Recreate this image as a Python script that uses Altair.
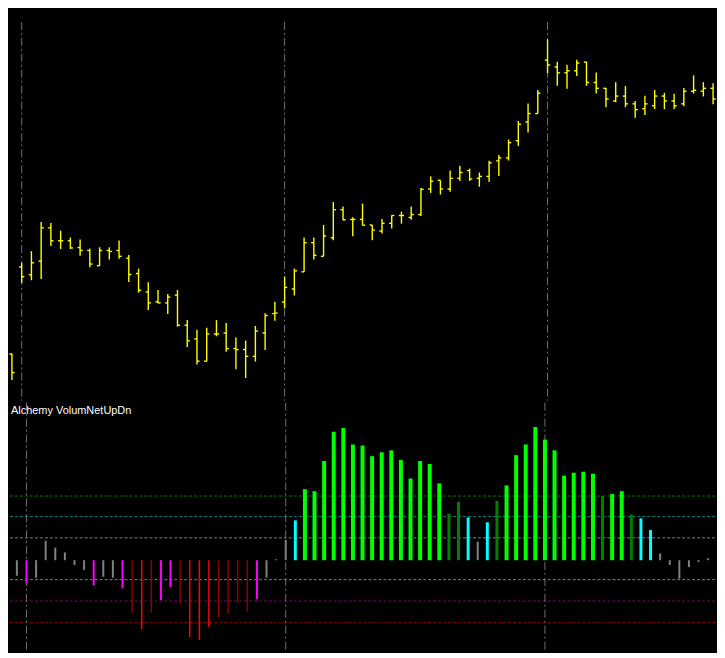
import altair as alt
import pandas as pd

# ---------------- data ----------------
# price panel (arbitrary price units)
opens = [45, 134.7, 126.7, 140.7, 175, 161.7, 161.7, 154.7, 151.7, 136, 151.7, 151.7, 143.7, 128, 109,
         98.7, 97.7, 105.7, 74.7, 60.7, 37.7, 65.7, 66.7, 50.7, 49.7, 42.7, 66.7, 86.7, 98.7, 112,
         129.7, 159.7, 145.7, 164.7, 193.7, 183.7, 183.7, 178, 171.7, 179.7, 187.7, 185.7, 188.7, 215, 224,
         215, 226, 234, 226, 228, 244, 247, 264.7, 284, 292.7, 347.7, 340.7, 334.7, 336.7, 345.7,
         324.7, 318.7, 305.7, 310.7, 302.7, 297.7, 300.7, 310.7, 305.7, 302.7, 315.7, 315.7, 318.7]
highs = [45.7, 139, 151, 181, 180, 172, 165, 163, 153.7, 155, 155, 162, 147, 133, 119,
         111, 107, 111, 80, 70, 72, 80, 77, 62, 59, 74, 87, 99, 125, 133,
         165, 165, 178, 201.7, 197, 186, 200, 178, 184, 188, 191.7, 197, 216, 228, 224,
         234, 239, 236, 232, 244, 250, 266, 285, 303, 317, 369, 346, 343, 348, 346,
         335, 319, 325, 321, 305.7, 311, 317, 314, 313, 319, 332, 325, 324]
lows = [18.3, 118.3, 121, 122.3, 156.3, 153.3, 153.3, 146.3, 134.3, 135.7, 142.3, 143.3, 119.3, 108.3, 90.3,
        97.3, 86.3, 73.3, 52.3, 34.3, 37.3, 63.3, 47.3, 29.3, 20.3, 37.3, 49.3, 79.3, 92.3, 105.3,
        129.7, 142.3, 145.7, 162.3, 182.7, 166.3, 177.7, 162.3, 169.3, 174.3, 179.3, 183.3, 187.3, 211, 209.3,
        212.3, 223.3, 223.3, 217.3, 222.3, 228.3, 244.3, 259.3, 273.3, 292.7, 334.3, 321.3, 318.3, 331.3, 321.3,
        313.3, 299.3, 304.3, 299.3, 288.3, 291.3, 297.3, 297.3, 297.3, 300.3, 313.3, 310.3, 302.3]
closes = [26, 124.7, 139, 175, 161.7, 161.7, 154.3, 151.7, 137.7, 151.7, 150.7, 145.7, 127, 110.7, 97.7,
          97.7, 103.7, 74.7, 58.7, 37.7, 65.7, 65.7, 50.7, 49.7, 42.7, 68.7, 84.7, 87.3, 113.7, 130.7,
          159.7, 146.7, 166.7, 193.7, 183.3, 183.7, 177.7, 172.7, 179.7, 187.7, 187.7, 188.7, 214.7, 223, 215,
          226, 232, 225.3, 228, 242, 247, 262.7, 281.7, 292.7, 313.7, 342.7, 334.7, 336.7, 344.7, 324.7,
          318.7, 307.7, 310.7, 302.7, 296.7, 302.7, 310.7, 305.7, 300.7, 315.7, 316.7, 318.7, 307.7]

# indicator panel
net_volume = [-16, -24, -18, 20, 13, 8, -5, -10, -26, -17, -18, -29, -54, -71, -54,
              -41, -28, -45, -79, -82, -69, -59, -55, -44, -53, -40, -18, 1, 21, 41,
              73, 71, 102, 132, 136, 119, 118, 107, 111, 113, 103, 84, 102, 99, 79,
              48, 60, 44, 19, 39, 61, 77, 108, 119, 137, 124, 113, 87, 90, 91,
              89, 66, 68, 71, 47, 43, 31, 7, -5, -19, -7, -2, 2]
vol_class = ["gray", "mag", "gray", "gray", "gray", "gray", "gray", "gray", "mag", "gray", "gray", "mag",
             "dred", "red", "dred", "mag", "mag", "dred", "red", "red", "red", "dred", "dred", "dred",
             "dred", "mag", "gray", "gray", "gray", "cyan",
             "lime", "lime", "lime", "lime", "lime", "lime", "lime", "lime", "lime", "lime", "lime",
             "lime", "lime", "lime", "lime",
             "dgreen", "dgreen", "cyan", "gray", "cyan", "dgreen",
             "lime", "lime", "lime", "lime", "lime", "lime", "lime", "lime", "lime", "lime",
             "dgreen", "lime", "lime", "dgreen", "cyan", "cyan",
             "gray", "gray", "gray", "gray", "gray", "gray"]
class_color = {"gray": "#808080", "mag": "#FF00FF", "red": "#FF0000", "dred": "#8B0000",
               "lime": "#00FF00", "dgreen": "#008000", "cyan": "#00FFFF"}
class_width = {"gray": 2, "mag": 2, "red": 1.5, "dred": 1.5, "lime": 4, "dgreen": 3, "cyan": 3}

level_values = [66, 45, 23, -20, -42, -64]
level_colors = ["#008000", "#008080", "#808080", "#808080", "#800080", "#800000"]
grid_bars = [1, 28, 55]
indicator_label = ["Alchemy VolumNetUpDn"]

# ---------------- layout ----------------
W = 709
H1 = 393
H2 = 249
x_dom = [-0.2, 72.3]
y1_dom = [-3, 400]
y2_dom = [-93, 162]

n = len(opens)
price_df = pd.DataFrame({"i": list(range(n)), "open": opens, "high": highs,
                         "low": lows, "close": closes})
vol_df = pd.DataFrame({"i": list(range(n)), "v": net_volume,
                       "col": [class_color[c] for c in vol_class],
                       "w": [class_width[c] for c in vol_class]})
lev_df = pd.DataFrame({"lv": level_values, "col": level_colors})
grid_df = pd.DataFrame({"i": grid_bars})
lab_df = pd.DataFrame({"t": indicator_label})

xs = alt.Scale(domain=x_dom, nice=False, zero=False)
ys1 = alt.Scale(domain=y1_dom, nice=False, zero=False)
ys2 = alt.Scale(domain=y2_dom, nice=False, zero=False)

YEL = "#FFFF00"
GRID = "#707070"
SW = 1.4

# ---- top panel ----
vgrid_top = alt.Chart(grid_df).mark_rule(color=GRID, strokeWidth=1, strokeDash=[8, 3, 2, 3]).encode(
    x=alt.X("i:Q", scale=xs, axis=None),
    y=alt.value(12.7), y2=alt.value(H1))

hl = alt.Chart(price_df).mark_rule(color=YEL, strokeWidth=SW).encode(
    x=alt.X("i:Q", scale=xs, axis=None),
    y=alt.Y("high:Q", scale=ys1, axis=None), y2="low:Q")

otick = alt.Chart(price_df).transform_calculate(xl="datum.i - 0.27").mark_rule(
    color=YEL, strokeWidth=SW).encode(
    x=alt.X("xl:Q", scale=xs, axis=None), x2="i:Q",
    y=alt.Y("open:Q", scale=ys1, axis=None))

ctick = alt.Chart(price_df).transform_calculate(xr="datum.i + 0.27").mark_rule(
    color=YEL, strokeWidth=SW).encode(
    x=alt.X("i:Q", scale=xs, axis=None), x2="xr:Q",
    y=alt.Y("close:Q", scale=ys1, axis=None))

top = alt.layer(vgrid_top, hl, otick, ctick).properties(width=W, height=H1)

# ---- bottom panel ----
levels = alt.Chart(lev_df).mark_rule(strokeWidth=1, strokeDash=[3, 2]).encode(
    y=alt.Y("lv:Q", scale=ys2, axis=None),
    x=alt.value(0), x2=alt.value(W),
    color=alt.Color("col:N", scale=None, legend=None))

vgrid_bot = alt.Chart(grid_df).mark_rule(color=GRID, strokeWidth=1, strokeDash=[8, 3, 2, 3]).encode(
    x=alt.X("i:Q", scale=xs, axis=None),
    y=alt.value(0), y2=alt.value(H2))

bars = alt.Chart(vol_df).mark_bar().encode(
    x=alt.X("i:Q", scale=xs, axis=None),
    y=alt.Y("v:Q", scale=ys2, axis=None),
    y2=alt.datum(0),
    size=alt.Size("w:Q", scale=None, legend=None),
    color=alt.Color("col:N", scale=None, legend=None))

label = alt.Chart(lab_df).mark_text(
    align="left", baseline="alphabetic", color="white",
    font="Liberation Sans", fontSize=11).encode(
    x=alt.value(1), y=alt.value(11.5), text="t:N")

bottom = alt.layer(levels, vgrid_bot, bars, label).properties(width=W, height=H2)

chart = alt.vconcat(top, bottom, spacing=0).properties(padding=0).configure(
    background="black").configure_view(strokeWidth=0)

chart.save("out.html", embed_options={"renderer": "svg", "actions": False})
